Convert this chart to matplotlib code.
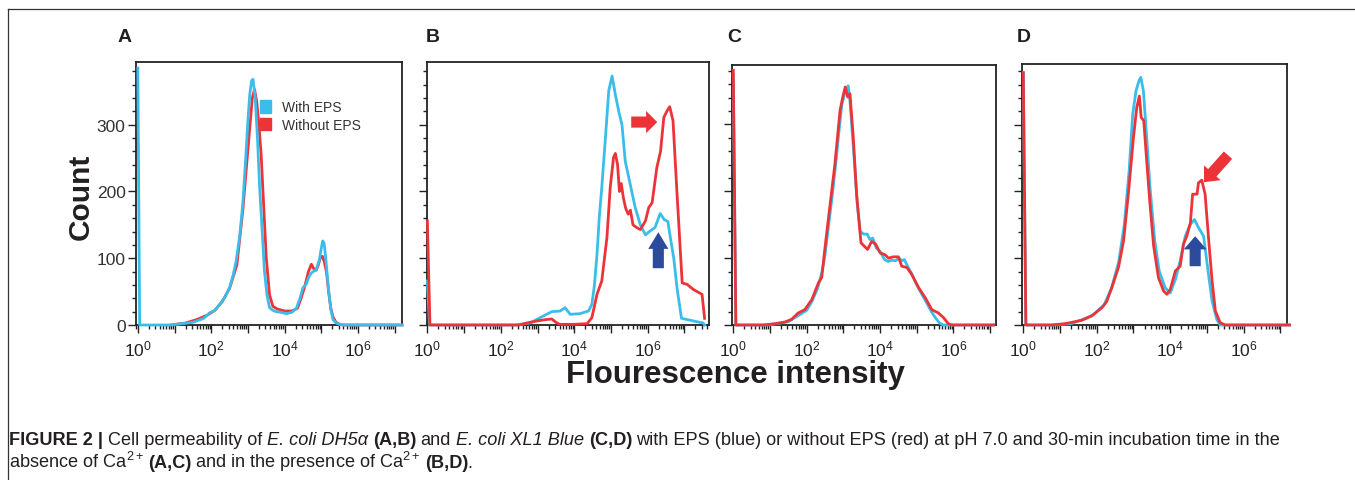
import numpy as np
import matplotlib
matplotlib.use("Agg")
import matplotlib.pyplot as plt
from matplotlib.ticker import LogLocator, MultipleLocator, NullFormatter
from matplotlib.patches import Patch
from matplotlib.lines import Line2D

plt.rcParams['font.family'] = ['Liberation Sans', 'DejaVu Sans']
plt.rcParams['mathtext.fontset'] = 'custom'
plt.rcParams['mathtext.rm'] = 'Liberation Sans'
plt.rcParams['mathtext.it'] = 'Liberation Sans:italic'
plt.rcParams['mathtext.bf'] = 'Liberation Sans:bold'
plt.rcParams['mathtext.default'] = 'regular'

BLUE = "#3bbdea"
RED = "#ec3338"
NAVY = "#2d4b9c"
INK = "#231f20"
AX = "#222222"

# ---- data: log10(fluorescence) and counts ----
# A: DH5a, no Ca2+
a_blue_logx = [0.0, 0.05, 0.9, 1.2, 1.5, 1.8, 1.95, 2.1, 2.23, 2.38, 2.5, 2.6, 2.68, 2.78, 2.86,
               2.94, 3.0, 3.05, 3.1, 3.14, 3.2, 3.26, 3.32, 3.39, 3.45, 3.52, 3.59, 3.68, 3.77, 3.9,
               4.05, 4.2, 4.32, 4.42, 4.5, 4.59, 4.66, 4.73, 4.86, 4.95, 5.0, 5.04, 5.08, 5.12, 5.17,
               5.21, 5.27, 5.32, 5.4, 5.5, 5.6, 7.2]
a_blue_count = [385, 0, 0, 2, 4, 10, 18, 22, 31, 42, 56, 75, 96, 135, 181,
                250, 306, 345, 366, 368, 340, 280, 206, 140, 81, 45, 26, 22, 20, 19,
                17, 19, 25, 40, 56, 61, 72, 78, 83, 98, 115, 126, 122, 101, 70,
                46, 20, 8, 3, 1, 0, 0]
a_red_logx = [0.9, 1.3, 1.6, 1.9, 2.1, 2.3, 2.5, 2.7, 2.86, 2.95, 3.05, 3.12, 3.18, 3.24, 3.3,
              3.36, 3.42, 3.5, 3.59, 3.68, 3.8, 4.0, 4.2, 4.35, 4.45, 4.55, 4.65, 4.73, 4.8, 4.86,
              4.92, 4.97, 5.03, 5.08, 5.14, 5.2, 5.26, 5.32, 5.4, 5.5, 5.6, 7.2]
a_red_count = [0, 3, 8, 15, 22, 35, 55, 90, 171, 230, 295, 340, 353, 335, 300,
               256, 190, 101, 45, 28, 24, 21, 21, 25, 40, 58, 80, 91, 84, 82,
               90, 100, 103, 95, 80, 50, 25, 12, 4, 1, 0, 0]

# B: DH5a, with Ca2+
b_blue_logx = [0.0, 0.06, 2.4, 2.8, 3.07, 3.25, 3.39, 3.62, 3.75, 3.89, 4.16, 4.39, 4.48, 4.55,
               4.62, 4.68, 4.75, 4.85, 4.94, 5.03, 5.12, 5.22, 5.3, 5.39, 5.52, 5.66, 5.8, 5.94,
               6.07, 6.2, 6.34, 6.45, 6.55, 6.62, 6.71, 6.8, 6.92, 7.25, 7.51, 7.55]
b_blue_count = [66, 0, 0, 3, 11, 16, 20, 21, 26, 16, 17, 21, 31, 60,
                106, 160, 206, 281, 351, 373, 345, 318, 300, 245, 212, 176, 150, 135,
                141, 146, 167, 158, 155, 130, 100, 55, 10, 6, 3, 0]
b_red_logx = [0.0, 0.07, 2.5, 2.71, 2.98, 3.21, 3.39, 3.5, 3.6, 4.0, 4.35, 4.48, 4.62, 4.75,
              4.89, 4.98, 5.07, 5.12, 5.18, 5.23, 5.28, 5.34, 5.4, 5.47, 5.53, 5.6, 5.7, 5.8,
              5.94, 6.03, 6.12, 6.25, 6.35, 6.44, 6.53, 6.6, 6.69, 6.8, 6.94, 7.07, 7.25, 7.48, 7.55]
b_red_count = [156, 0, 0, 3, 6, 8, 9, 4, 1, 1, 2, 11, 46, 66,
               131, 206, 251, 257, 240, 200, 212, 190, 175, 166, 172, 150, 146, 143,
               156, 176, 183, 236, 260, 311, 321, 327, 306, 196, 63, 61, 53, 46, 10]

# C: XL1 Blue, no Ca2+
c_blue_logx = [0.0, 0.07, 0.9, 1.2, 1.5, 1.8, 2.0, 2.15, 2.3, 2.42, 2.5, 2.6, 2.7, 2.8, 2.88,
               2.96, 3.03, 3.08, 3.13, 3.18, 3.24, 3.3, 3.38, 3.46, 3.55, 3.65, 3.72, 3.8, 3.9,
               4.0, 4.12, 4.22, 4.32, 4.42, 4.52, 4.6, 4.66, 4.75, 4.85, 5.0, 5.15, 5.3, 5.42,
               5.52, 5.62, 5.72, 7.1]
c_blue_count = [375, 0, 0, 2, 5, 15, 22, 36, 55, 80, 105, 150, 195, 245, 290,
                330, 345, 352, 358, 335, 290, 245, 180, 140, 136, 136, 128, 130, 115,
                110, 98, 95, 97, 96, 100, 96, 98, 88, 78, 60, 45, 30, 18,
                10, 3, 0, 0]
c_red_logx = [0.0, 0.07, 0.82, 1.14, 1.41, 1.59, 1.77, 1.95, 2.14, 2.32, 2.41, 2.5, 2.64, 2.77,
              2.91, 2.98, 3.05, 3.12, 3.18, 3.27, 3.36, 3.48, 3.57, 3.66, 3.77, 3.88, 4.0, 4.14,
              4.23, 4.36, 4.5, 4.59, 4.73, 4.86, 5.05, 5.23, 5.41, 5.59, 5.73, 5.86, 5.95, 7.1]
c_red_count = [381, 0, 0, 2, 4.5, 8.5, 18, 23, 38, 63, 71, 116, 181, 241,
               321, 340, 356, 341, 346, 281, 196, 123, 118, 113, 125, 121, 108, 105,
               100, 102, 102, 88, 86, 76, 56, 41, 23, 18, 11, 2, 0, 0]

# D: XL1 Blue, with Ca2+
d_blue_logx = [0.0, 0.07, 0.8, 1.3, 1.6, 1.9, 2.2, 2.4, 2.6, 2.75, 2.88, 2.98, 3.07, 3.15,
               3.2, 3.27, 3.36, 3.45, 3.58, 3.7, 3.86, 4.0, 4.14, 4.27, 4.41, 4.55, 4.66, 4.77,
               4.91, 5.03, 5.14, 5.27, 5.36, 7.25]
d_blue_count = [378, 0, 0, 2, 8, 15, 30, 55, 95, 150, 230, 316, 351, 366,
                371, 351, 281, 206, 126, 81, 56, 48, 68, 96, 133, 151, 158, 146,
                133, 81, 36, 8, 0, 0]
d_red_logx = [0.0, 0.07, 0.77, 1.14, 1.59, 1.86, 2.14, 2.27, 2.41, 2.59, 2.73, 2.86, 3.0, 3.09,
              3.16, 3.21, 3.28, 3.36, 3.45, 3.55, 3.68, 3.82, 3.91, 4.0, 4.14, 4.27, 4.36, 4.45,
              4.55, 4.61, 4.73, 4.77, 4.86, 4.95, 5.05, 5.14, 5.23, 5.36, 5.5, 7.25]
d_red_count = [378, 0, 0, 2, 7, 13.5, 26, 35, 56, 86, 126, 196, 281, 326,
               343, 311, 306, 246, 181, 118, 71, 51, 46, 53, 81, 88, 121, 133,
               153, 196, 196, 213, 217, 196, 126, 66, 21, 3.5, 0, 0]

panel_letters = ["A", "B", "C", "D"]
xtick_labels = [r"$10^{0}$", "", r"$10^{2}$", "", r"$10^{4}$", "", r"$10^{6}$", ""]
legend_labels = ["With EPS", "Without EPS"]

W, H = 1355, 481
fig = plt.figure(figsize=(W / 100, H / 100), dpi=100)


def px_axes(left, top, right, bottom):
    return fig.add_axes([left / W, 1 - bottom / H, (right - left) / W, (bottom - top) / H])


def style_axes(ax, xlo, xhi, ytop, show_y):
    ax.set_xscale("log")
    ax.set_xlim(10 ** xlo, 10 ** xhi)
    ax.set_ylim(0, ytop)
    ax.set_xticks(10.0 ** np.arange(0, 8))
    ax.set_xticklabels(xtick_labels)
    ax.xaxis.set_minor_locator(LogLocator(base=10, subs=np.arange(2, 10), numticks=30))
    ax.xaxis.set_minor_formatter(NullFormatter())
    ax.yaxis.set_major_locator(MultipleLocator(100))
    ax.yaxis.set_minor_locator(MultipleLocator(20))
    ax.tick_params(which="both", direction="out", color=AX, width=1.0)
    ax.tick_params(which="major", length=5.5)
    ax.tick_params(which="minor", length=3)
    ax.tick_params(axis="x", labelsize=12.5, pad=4, labelcolor=AX)
    ax.tick_params(axis="y", labelsize=12.5, pad=2, labelcolor="#333333", labelleft=show_y)
    for s in ax.spines.values():
        s.set_linewidth(1.3)
        s.set_color(AX)


def curve(ax, logx, count, color, z):
    ax.plot(10.0 ** np.asarray(logx), count, color=color, lw=2.0, zorder=z,
            solid_joinstyle="round", clip_on=False)


def arrow(ax, logx, count, dx, dy, color, hl, hw, tw):
    ax.annotate("", xy=(10 ** logx, count), xytext=(dx, dy), textcoords="offset pixels",
                arrowprops=dict(arrowstyle=f"simple,head_length={hl},head_width={hw},tail_width={tw}",
                                mutation_scale=1, fc=color, ec="none", lw=0,
                                shrinkA=0, shrinkB=0), zorder=6)


axA = px_axes(136, 63, 402, 326)
axB = px_axes(427, 63, 709, 326)
axC = px_axes(732, 66, 996, 326)
axD = px_axes(1022, 65, 1287, 326)

style_axes(axA, -0.05, 7.2, 394, True)
style_axes(axB, -0.01, 7.67, 394, False)
style_axes(axC, -0.035, 7.16, 389, False)
style_axes(axD, -0.035, 7.18, 391, False)

curve(axA, a_red_logx, a_red_count, RED, 3)
curve(axA, a_blue_logx, a_blue_count, BLUE, 4)
curve(axB, b_blue_logx, b_blue_count, BLUE, 3)
curve(axB, b_red_logx, b_red_count, RED, 4)
curve(axC, c_blue_logx, c_blue_count, BLUE, 3)
curve(axC, c_red_logx, c_red_count, RED, 4)
curve(axD, d_blue_logx, d_blue_count, BLUE, 3)
curve(axD, d_red_logx, d_red_count, RED, 4)

axA.legend(handles=[Patch(color=BLUE), Patch(color=RED)], labels=legend_labels,
           loc="upper left", bbox_to_anchor=(0.465, 0.855), frameon=False,
           fontsize=10, handlelength=0.85, handleheight=1.0, handletextpad=0.75,
           labelspacing=0.25, borderpad=0, borderaxespad=0, labelcolor="#333333")

arrow(axB, 6.26, 304, -26, 0, RED, 8, 16, 8)
arrow(axB, 6.29, 139, 0, -36, NAVY, 12, 14.5, 8)
arrow(axD, 4.92, 214, 24, 27, RED, 9, 16, 8)
arrow(axD, 4.68, 133, 0, -30, NAVY, 9.5, 16.5, 8)

for ax, letter, xpx in zip([axA, axB, axC, axD], panel_letters, [118, 426, 727, 1017]):
    fig.text(xpx / W, 1 - 38 / H, letter, fontsize=14, fontweight="bold", color=INK,
             ha="left", va="center")

fig.text(81 / W, 1 - 197 / H, "Count", rotation=90, fontsize=21.5, fontweight="bold",
         color=INK, ha="center", va="center")
fig.text(735 / W, 1 - 375 / H, "Flourescence intensity", fontsize=22.5, fontweight="bold",
         color=INK, ha="center", va="center")

# page frame lines
fig.add_artist(Line2D([8 / W, 1], [1 - 10 / H, 1 - 10 / H], transform=fig.transFigure,
                      color="#333333", lw=0.9))
fig.add_artist(Line2D([8 / W, 8 / W], [0, 1 - 10 / H], transform=fig.transFigure,
                      color="#333333", lw=0.9))


def caption_line(x_px, base_px, pieces, size):
    # lay out mixed-style pieces one after another on a baseline
    r = fig.canvas.get_renderer()
    probe = fig.text(0, 0, "x x", fontsize=size)
    w2 = probe.get_window_extent(r).width
    probe.set_text("xx")
    w1 = probe.get_window_extent(r).width
    probe.remove()
    space = w2 - w1
    x = x_px
    for txt, style in pieces:
        lead = len(txt) - len(txt.lstrip(" "))
        trail = len(txt) - len(txt.rstrip(" "))
        x += lead * space
        t = fig.text(x / W, 1 - base_px / H, txt.strip(" "), fontsize=size, color=INK,
                     ha="left", va="baseline", **style)
        x += t.get_window_extent(r).width + trail * space
        if style.get("fontweight") == "bold" and txt.strip().endswith(")"):
            x -= 1.2
        if "$" in txt:
            x -= 0.8


N = {}
B = {"fontweight": "bold"}
I = {"fontstyle": "italic"}
cap_size = 13.1
caption_line(9, 445, [
    ("FIGURE 2 | ", B), ("Cell permeability of ", N), ("E. coli DH5α", I),
    (" (A,B)", B), (" and ", N), ("E. coli XL1 Blue", I), (" (C,D)", B),
    (" with EPS (blue) or without EPS (red) at pH 7.0 and 30-min incubation time in the", N),
], cap_size)
caption_line(9, 468, [
    ("absence of Ca$^{2+}$ ", N), ("(A,C)", B), (" and in the presence of Ca$^{2+}$ ", N),
    ("(B,D)", B), (".", N),
], cap_size)

fig.savefig("out.png", dpi=100, facecolor="white")
